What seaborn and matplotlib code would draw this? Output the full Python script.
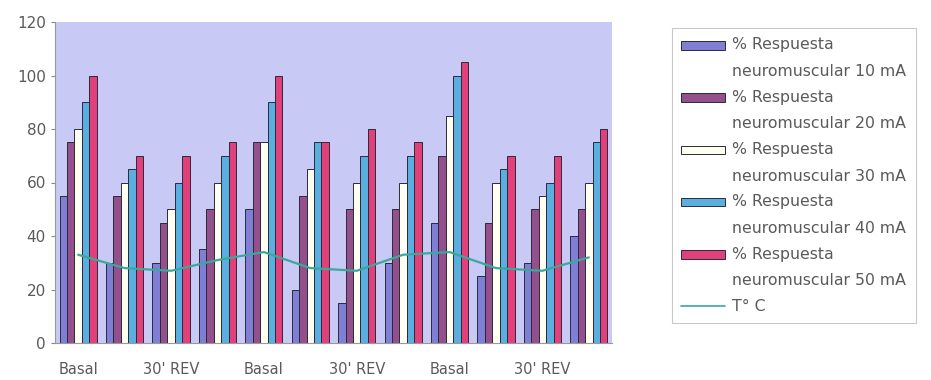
import numpy as np
import pandas as pd
import seaborn as sns
import matplotlib.pyplot as plt
from matplotlib.patches import Patch, Rectangle
from matplotlib.lines import Line2D
from matplotlib.legend_handler import HandlerPatch

# category labels (only every second one is shown in the original)
groups = ["Basal", "", "30' REV", "", "Basal", "", "30' REV", "", "Basal", "", "30' REV", ""]

series_names = ["% Respuesta\nneuromuscular 10 mA",
                "% Respuesta\nneuromuscular 20 mA",
                "% Respuesta\nneuromuscular 30 mA",
                "% Respuesta\nneuromuscular 40 mA",
                "% Respuesta\nneuromuscular 50 mA"]

resp_10 = [55, 30, 30, 35, 50, 20, 15, 30, 45, 25, 30, 40]
resp_20 = [75, 55, 45, 50, 75, 55, 50, 50, 70, 45, 50, 50]
resp_30 = [80, 60, 50, 60, 75, 65, 60, 60, 85, 60, 55, 60]
resp_40 = [90, 65, 60, 70, 90, 75, 70, 70, 100, 65, 60, 75]
resp_50 = [100, 70, 70, 75, 100, 75, 80, 75, 105, 70, 70, 80]
temp_c = [33, 28, 27, 31, 34, 28, 27, 33, 34, 28, 27, 32]

colors = ["#7f7fd6", "#94508c", "#fffff2", "#5aaee0", "#e2407a"]
line_color = "#3aa89a"

idx = list(range(len(groups)))
rows = []
for name, vals in zip(series_names, [resp_10, resp_20, resp_30, resp_40, resp_50]):
    for i, v in zip(idx, vals):
        rows.append({"grupo": i, "serie": name, "valor": v})
df = pd.DataFrame(rows)

sns.set_style("white")
plt.rcParams['font.family'] = ['DejaVu Sans']

fig = plt.figure(figsize=(9.31, 3.80), dpi=100)
ax = fig.add_axes([55 / 931, 37 / 380, 557 / 931, 321 / 380])
ax.set_facecolor("#c9c9f6")

sns.barplot(data=df, x="grupo", y="valor", hue="serie", order=idx,
            hue_order=series_names, palette=colors, width=0.8, saturation=1,
            edgecolor="#2a2a3a", linewidth=0.7, legend=False, ax=ax)
sns.lineplot(x=idx, y=temp_c, color=line_color, linewidth=1.6, ax=ax)

ax.set_xlim(-0.5, len(groups) - 0.5)
ax.set_ylim(0, 120)
ax.set_yticks(np.arange(0, 121, 20))
ax.set_xlabel("")
ax.set_ylabel("")

ax.set_xticks(idx)
ax.set_xticklabels(groups)
ax.set_xticks(np.arange(-0.5, len(groups), 1), minor=True)
ax.tick_params(axis="x", which="major", length=0, pad=14, labelsize=10.5, labelcolor="#5a5a5a")
ax.tick_params(axis="x", which="minor", length=3, color="#888888", direction="out")
ax.tick_params(axis="y", length=3, color="#888888", labelsize=11, labelcolor="#5a5a5a", left=True)

for side in ["top", "right"]:
    ax.spines[side].set_visible(False)
ax.spines["left"].set_color("#999999")
ax.spines["bottom"].set_color("#999999")


# legend swatch sits next to the first text line, as in the original
def upper_patch(legend, orig_handle, xdescent, ydescent, width, height, fontsize):
    return Rectangle((-xdescent, -ydescent + 9.5), width, height)


handles = [Patch(facecolor=c, edgecolor="#2a2a3a", linewidth=0.7) for c in colors]
handles.append(Line2D([], [], color=line_color, linewidth=1.2))
labels = series_names + ["T° C"]
leg = fig.legend(handles, labels, loc="upper left", bbox_to_anchor=(664 / 931, 1 - 20 / 380),
                 frameon=True, fancybox=False, fontsize=11.3, labelcolor="#5a5a5a",
                 handlelength=2.8, handleheight=0.45, handletextpad=0.45,
                 labelspacing=0.68, borderpad=0.6,
                 handler_map={Patch: HandlerPatch(patch_func=upper_patch)})
for t in leg.get_texts():
    t.set_linespacing(1.97)
leg.get_frame().set_edgecolor("#bbbbbb")
leg.get_frame().set_linewidth(0.8)

fig.savefig("out.png", dpi=100)
